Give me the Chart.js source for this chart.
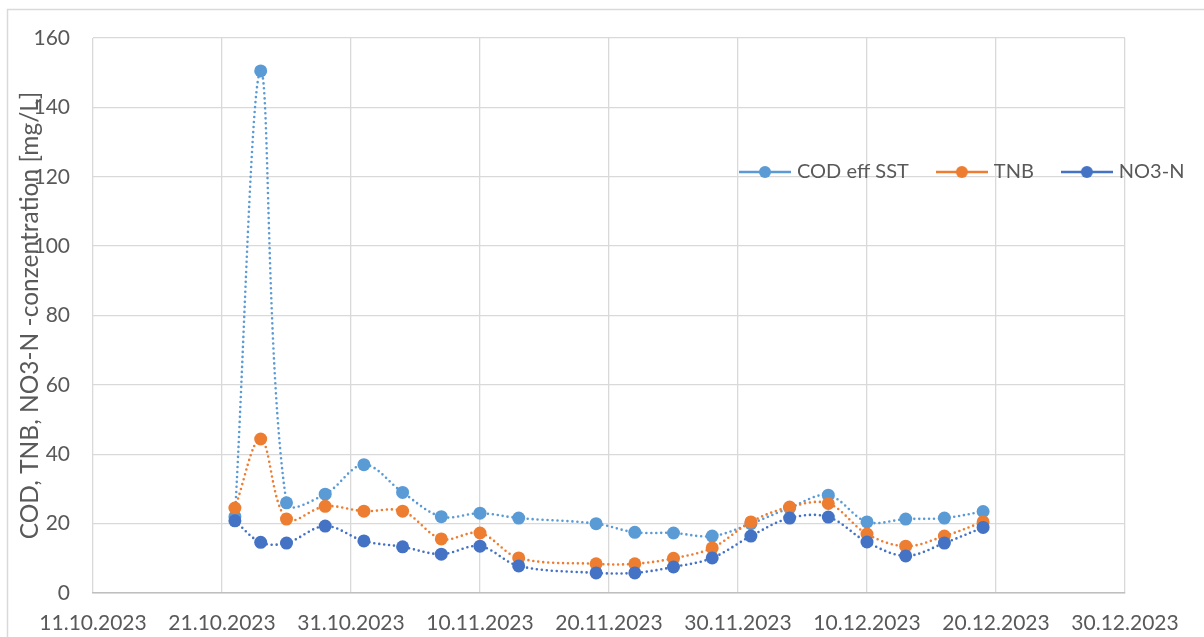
<!DOCTYPE html>
<html><head><meta charset="utf-8">
<script src="https://cdn.jsdelivr.net/npm/chart.js@4.4.1/dist/chart.umd.min.js"></script>
<style>html,body{margin:0;padding:0;background:#fff;}#wrap{position:relative;width:1204px;height:637px;}</style>
</head><body><div id="wrap"><canvas id="c" width="1204" height="637"></canvas></div>
<script>
// ---- data ----
const sampleDates = ['22.10.2023','24.10.2023','26.10.2023','29.10.2023','01.11.2023','04.11.2023','07.11.2023','10.11.2023','13.11.2023','19.11.2023','22.11.2023','25.11.2023','28.11.2023','01.12.2023','04.12.2023','07.12.2023','10.12.2023','13.12.2023','16.12.2023','19.12.2023'];
const codEffSST = [22, 150.5, 26, 28.5, 37, 29, 22, 23, 21.6, 20, 17.5, 17.3, 16.4, 20, 24.5, 28.2, 20.5, 21.3, 21.6, 23.5];
const tnb       = [24.5, 44.4, 21.3, 25, 23.6, 23.6, 15.6, 17.3, 10.1, 8.4, 8.4, 10, 13, 20.5, 24.8, 25.8, 17, 13.5, 16.4, 20.5];
const no3n      = [20.8, 14.6, 14.4, 19.3, 15, 13.3, 11.2, 13.5, 7.8, 5.8, 5.8, 7.5, 10.1, 16.4, 21.6, 21.9, 14.7, 10.7, 14.4, 18.9];
const seriesNames = ['COD eff SST', 'TNB', 'NO3-N'];
const xTickLabels = ['11.10.2023','21.10.2023','31.10.2023','10.11.2023','20.11.2023','30.11.2023','10.12.2023','20.12.2023','30.12.2023'];
const yTickLabels = ['0','20','40','60','80','100','120','140','160'];
const yTitle = 'COD, TNB, NO3-N -conzentration [mg/L]';

// ---- helpers ----
const colors = ['#5B9BD5', '#ED7D31', '#4472C4'];
function parseDay(s){ const p = s.split('.').map(Number); return Date.UTC(p[2], p[1]-1, p[0]); }
const origin = parseDay(xTickLabels[0]);
const xDays = sampleDates.map(s => (parseDay(s) - origin) / 864e5);
const toPts = arr => arr.map((v, i) => ({x: xDays[i], y: v}));

function legendIcon(color){
  const c = document.createElement('canvas');
  c.width = 52; c.height = 14;
  const g = c.getContext('2d');
  g.strokeStyle = color; g.lineWidth = 2.5;
  g.beginPath(); g.moveTo(0, 7); g.lineTo(52, 7); g.stroke();
  g.fillStyle = color; g.beginPath(); g.arc(26, 7, 6, 0, Math.PI*2); g.fill();
  return c;
}
const icons = colors.map(legendIcon);

const framePlugin = {
  id: 'frame',
  beforeDraw(chart){
    const ctx = chart.ctx; ctx.save();
    ctx.strokeStyle = '#d9d9d9'; ctx.lineWidth = 1.5;
    ctx.beginPath(); ctx.moveTo(7.5, 637); ctx.lineTo(7.5, 9.5); ctx.lineTo(1204, 9.5); ctx.stroke();
    ctx.restore();
  }
};
const legendPlacer = {
  id: 'legendPlacer',
  beforeLayout(chart){
    if (chart.legend) chart.legend.isHorizontal = () => true;
  },
  afterLayout(chart){
    const lg = chart.legend; if (!lg) return;
    const w = lg.width, h = lg.height;
    lg.left = 712; lg.top = 131; lg.right = 712 + w; lg.bottom = 131 + h;
  }
};

const mk = (arr, i, order) => ({
  label: seriesNames[i],
  data: toPts(arr),
  borderColor: colors[i],
  backgroundColor: colors[i],
  pointBackgroundColor: colors[i],
  pointBorderColor: colors[i],
  pointRadius: 6.5,
  pointBorderWidth: 0,
  borderWidth: 2.6,
  borderDash: [0, 5],
  borderCapStyle: 'round',
  tension: 0.35,
  order: order
});

new Chart(document.getElementById('c'), {
  type: 'line',
  data: { datasets: [ mk(codEffSST, 0, 2), mk(tnb, 1, 1), mk(no3n, 2, 0) ] },
  options: {
    responsive: false,
    animation: false,
    devicePixelRatio: 1,
    layout: { padding: { left: 0, top: 38, right: 79, bottom: 0 } },
    plugins: {
      tooltip: { enabled: false },
      legend: {
        position: 'chartArea',
        align: 'start',
        labels: {
          usePointStyle: true,
          pointStyleWidth: 44,
          padding: 31,
          color: '#595959',
          font: { family: 'Lato', size: 20 },
          generateLabels(chart){
            const items = Chart.defaults.plugins.legend.labels.generateLabels(chart);
            items.forEach(it => { it.pointStyle = icons[it.datasetIndex]; });
            return items.sort((a, b) => a.datasetIndex - b.datasetIndex);
          }
        }
      }
    },
    scales: {
      x: {
        type: 'linear',
        min: 0, max: 80,
        afterBuildTicks(s){ s.ticks = xTickLabels.map((_, i) => ({value: i * 10})); },
        afterFit(s){ s.height = 44; },
        ticks: {
          callback: (v) => xTickLabels[Math.round(v / 10)],
          color: '#595959',
          font: { family: 'Lato', size: 21 },
          padding: 18,
          maxRotation: 0,
          autoSkip: false
        },
        grid: { color: '#d9d9d9', lineWidth: 1.3, drawTicks: false },
        border: { color: '#bfbfbf', width: 1.5 }
      },
      y: {
        type: 'linear',
        min: 0, max: 160,
        afterBuildTicks(s){ s.ticks = yTickLabels.map(t => ({value: Number(t)})); },
        afterFit(s){ s.width = 93; },
        ticks: {
          callback: (v) => yTickLabels[Math.round(v / 20)],
          color: '#595959',
          font: { family: 'Lato', size: 21 },
          padding: 23
        },
        grid: { color: '#d9d9d9', lineWidth: 1.3, drawTicks: false },
        border: { display: false },
        title: {
          display: true,
          text: yTitle,
          color: '#595959',
          font: { family: 'Lato', size: 24.5 },
          padding: { top: 15, bottom: 0 }
        }
      }
    }
  },
  plugins: [framePlugin, legendPlacer]
});
</script>
</body></html>
